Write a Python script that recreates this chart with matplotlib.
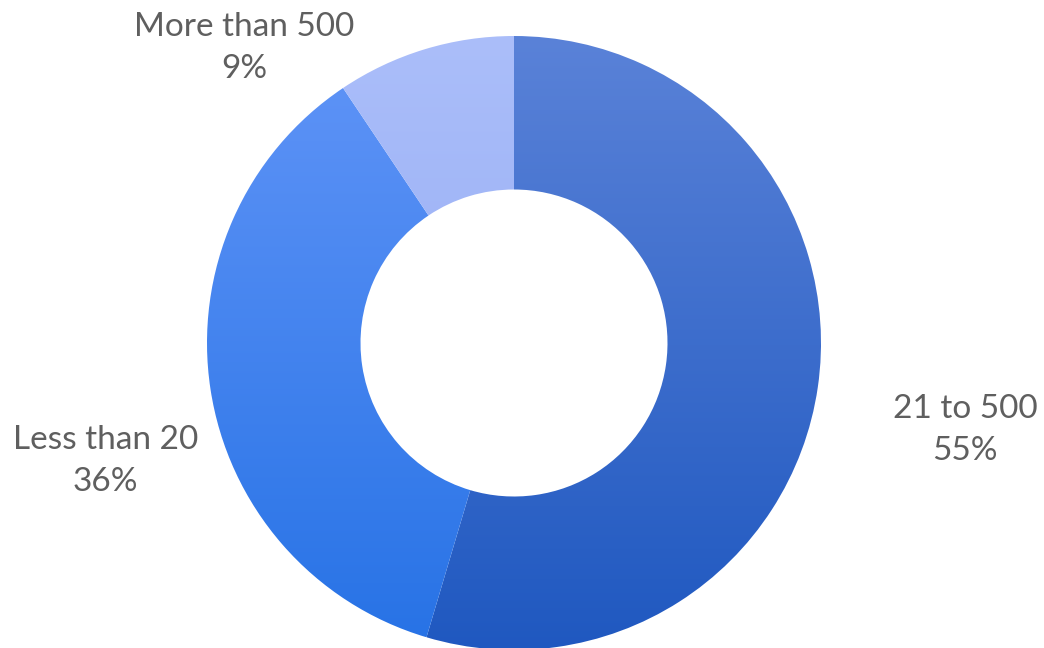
import numpy as np
import matplotlib
matplotlib.use("Agg")
import matplotlib.pyplot as plt
from matplotlib.colors import LinearSegmentedColormap

categories = ["21 to 500", "Less than 20", "More than 500"]
shares = [54.6, 36.0, 9.4]
# gradient per slice: (top, bottom)
grad_colors = [("#5a82d8", "#1f58c0"), ("#5c92f6", "#2873e6"), ("#abbefa", "#9bb1f5")]
label_pos = [(1.47, -0.285), (-1.33, -0.385), (-0.88, 0.96)]

W, H = 1044, 648
fig = plt.figure(figsize=(W / 100, H / 100), dpi=100)
cx, cy, r = 514, 343, 307
ax = fig.add_axes([(cx - r) / W, (H - cy - r) / H, 2 * r / W, 2 * r / H])

wedges, _ = ax.pie(shares, startangle=90, counterclock=False, radius=1,
                   wedgeprops=dict(width=0.5, linewidth=0))

for w, (top, bot) in zip(wedges, grad_colors):
    verts = w.get_patch_transform().transform(w.get_path().vertices)
    x0, x1 = verts[:, 0].min(), verts[:, 0].max()
    y0, y1 = verts[:, 1].min(), verts[:, 1].max()
    cmap = LinearSegmentedColormap.from_list("g", [bot, top])
    grad = np.linspace(0, 1, 256).reshape(-1, 1)
    im = ax.imshow(grad, cmap=cmap, extent=[x0, x1, y0, y1], origin="lower",
                   aspect="auto", interpolation="bilinear", zorder=1)
    im.set_clip_path(w)
    w.set_facecolor("none")

total = sum(shares)
for name, val, (lx, ly) in zip(categories, shares, label_pos):
    ax.text(lx, ly, f"{name}\n{val / total * 100:.0f}%", ha="center", va="center",
            fontsize=24, color="#5f5f5f", family="Lato", linespacing=1.5)

ax.set_xlim(-1, 1)
ax.set_ylim(-1, 1)
ax.set_aspect("auto")
ax.axis("off")

fig.savefig("out.png", dpi=100)
